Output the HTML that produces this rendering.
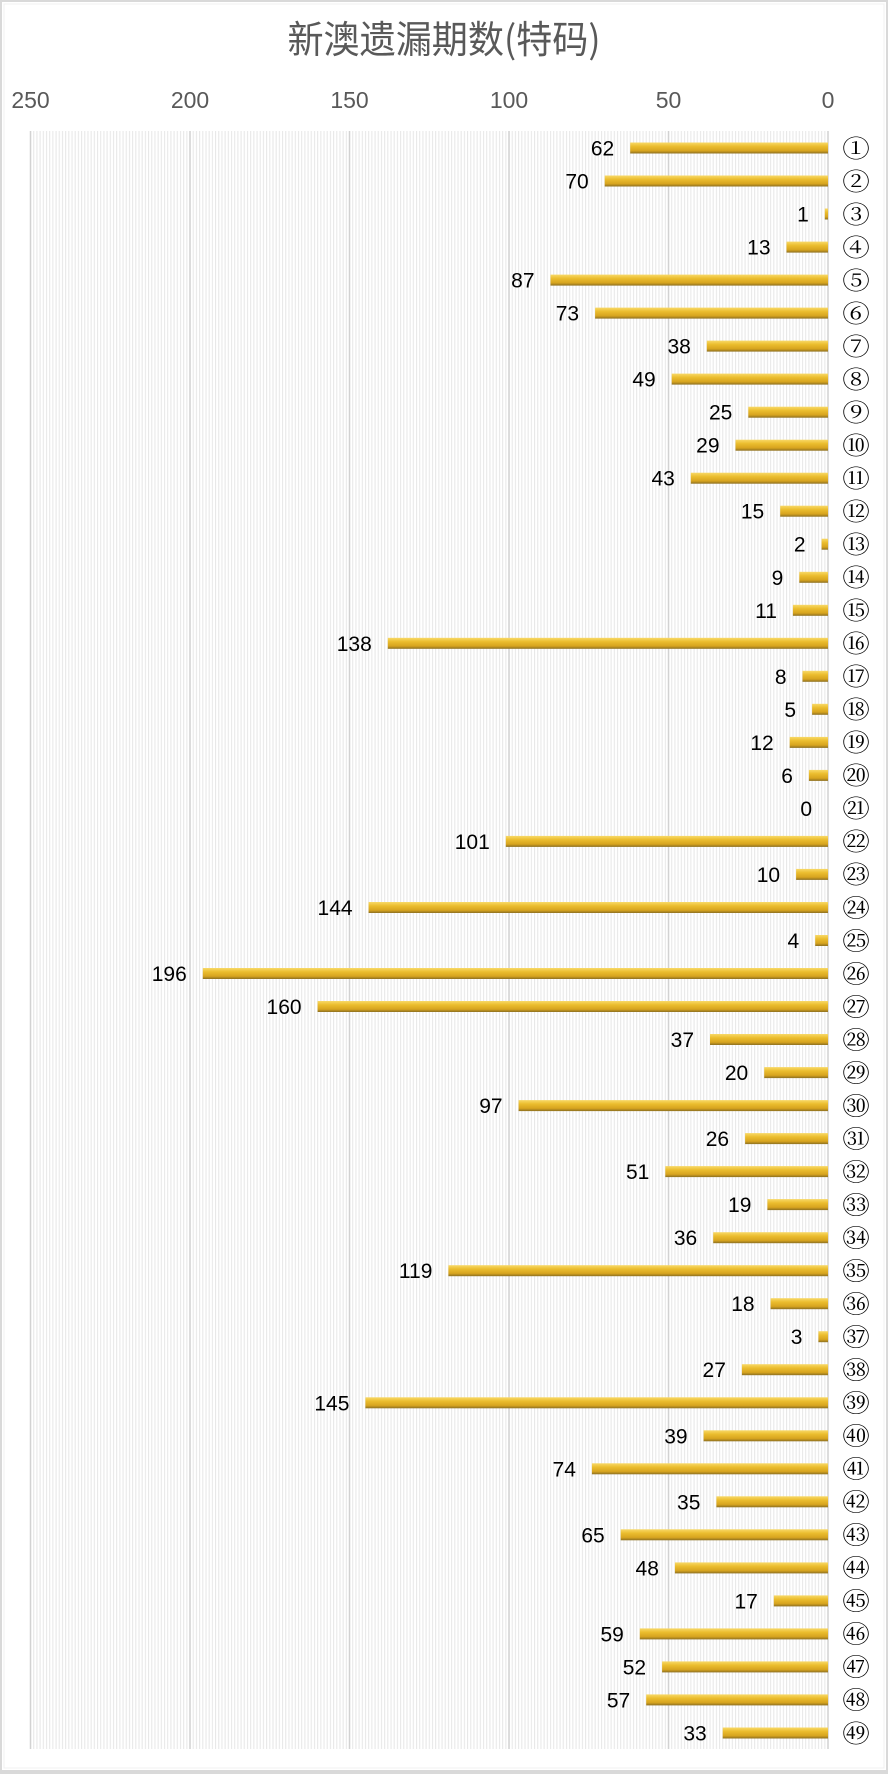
<!DOCTYPE html>
<html><head><meta charset="utf-8"><style>
html,body{margin:0;padding:0;background:#fff;}
svg{display:block;}
</style></head><body>
<svg width="888" height="1774" viewBox="0 0 888 1774" xmlns="http://www.w3.org/2000/svg">
<defs>
<linearGradient id="g" x1="0" y1="0" x2="0" y2="1">
<stop offset="0" stop-color="#f8d968"/>
<stop offset="0.35" stop-color="#ebbd2e"/>
<stop offset="0.75" stop-color="#d7a41f"/>
<stop offset="1" stop-color="#8c6f20"/>
</linearGradient>
<pattern id="mg" patternUnits="userSpaceOnUse" x="827.5" y="0" width="3.19" height="10">
<rect x="0" y="0" width="1.1" height="10" fill="#e8e8e8"/>
</pattern>
</defs>
<rect x="0" y="0" width="888" height="1774" fill="#fff"/>
<rect x="1" y="1" width="886" height="1771" fill="none" stroke="#d9d9d9" stroke-width="2"/>
<rect x="0" y="1770" width="888" height="4" fill="#d9d9d9"/>
<rect x="4" y="4" width="880" height="1764" fill="none" stroke="#f0f0f0" stroke-width="1"/>

<g transform="translate(444,0) scale(0.95,1)">
<text x="0" y="53" text-anchor="middle" font-family="'Noto Sans CJK SC','Liberation Sans',sans-serif" font-size="38" fill="#595959">新澳遗漏期数(特码)</text>
</g>

<g font-family="'Liberation Sans',sans-serif" font-size="23" fill="#595959" text-anchor="middle">
<text x="30.5" y="108">250</text>
<text x="190" y="108">200</text>
<text x="349.5" y="108">150</text>
<text x="509" y="108">100</text>
<text x="668.5" y="108">50</text>
<text x="828" y="108">0</text>
</g>

<rect x="30" y="131" width="798" height="1618" fill="url(#mg)"/>
<g stroke="#d2d2d2" stroke-width="1.5">
<line x1="30.5" y1="131" x2="30.5" y2="1749"/>
<line x1="190" y1="131" x2="190" y2="1749"/>
<line x1="349.5" y1="131" x2="349.5" y2="1749"/>
<line x1="509" y1="131" x2="509" y2="1749"/>
<line x1="668.5" y1="131" x2="668.5" y2="1749"/>
<line x1="828" y1="131" x2="828" y2="1749"/>
</g>

<g fill="url(#g)">
<rect x="630.2" y="142.5" width="197.8" height="11"/>
<rect x="604.7" y="175.5" width="223.3" height="11"/>
<rect x="824.8" y="208.5" width="3.2" height="11"/>
<rect x="786.5" y="241.6" width="41.5" height="11"/>
<rect x="550.5" y="274.6" width="277.5" height="11"/>
<rect x="595.1" y="307.6" width="232.9" height="11"/>
<rect x="706.8" y="340.6" width="121.2" height="11"/>
<rect x="671.7" y="373.6" width="156.3" height="11"/>
<rect x="748.3" y="406.7" width="79.7" height="11"/>
<rect x="735.5" y="439.7" width="92.5" height="11"/>
<rect x="690.8" y="472.7" width="137.2" height="11"/>
<rect x="780.2" y="505.7" width="47.8" height="11"/>
<rect x="821.6" y="538.7" width="6.4" height="11"/>
<rect x="799.3" y="571.8" width="28.7" height="11"/>
<rect x="792.9" y="604.8" width="35.1" height="11"/>
<rect x="387.8" y="637.8" width="440.2" height="11"/>
<rect x="802.5" y="670.8" width="25.5" height="11"/>
<rect x="812.1" y="703.8" width="15.9" height="11"/>
<rect x="789.7" y="736.9" width="38.3" height="11"/>
<rect x="808.9" y="769.9" width="19.1" height="11"/>
<rect x="505.8" y="835.9" width="322.2" height="11"/>
<rect x="796.1" y="868.9" width="31.9" height="11"/>
<rect x="368.6" y="902.0" width="459.4" height="11"/>
<rect x="815.2" y="935.0" width="12.8" height="11"/>
<rect x="202.8" y="968.0" width="625.2" height="11"/>
<rect x="317.6" y="1001.0" width="510.4" height="11"/>
<rect x="710.0" y="1034.0" width="118.0" height="11"/>
<rect x="764.2" y="1067.1" width="63.8" height="11"/>
<rect x="518.6" y="1100.1" width="309.4" height="11"/>
<rect x="745.1" y="1133.1" width="82.9" height="11"/>
<rect x="665.3" y="1166.1" width="162.7" height="11"/>
<rect x="767.4" y="1199.1" width="60.6" height="11"/>
<rect x="713.2" y="1232.2" width="114.8" height="11"/>
<rect x="448.4" y="1265.2" width="379.6" height="11"/>
<rect x="770.6" y="1298.2" width="57.4" height="11"/>
<rect x="818.4" y="1331.2" width="9.6" height="11"/>
<rect x="741.9" y="1364.2" width="86.1" height="11"/>
<rect x="365.4" y="1397.3" width="462.6" height="11"/>
<rect x="703.6" y="1430.3" width="124.4" height="11"/>
<rect x="591.9" y="1463.3" width="236.1" height="11"/>
<rect x="716.4" y="1496.3" width="111.6" height="11"/>
<rect x="620.7" y="1529.3" width="207.3" height="11"/>
<rect x="674.9" y="1562.4" width="153.1" height="11"/>
<rect x="773.8" y="1595.4" width="54.2" height="11"/>
<rect x="639.8" y="1628.4" width="188.2" height="11"/>
<rect x="662.1" y="1661.4" width="165.9" height="11"/>
<rect x="646.2" y="1694.4" width="181.8" height="11"/>
<rect x="722.7" y="1727.5" width="105.3" height="11"/>
</g>

<g font-family="'Liberation Sans',sans-serif" font-size="21" fill="#000" text-anchor="end">
<text x="614.2" y="155.5">62</text>
<text x="588.7" y="188.5">70</text>
<text x="808.8" y="221.5">1</text>
<text x="770.5" y="254.6">13</text>
<text x="534.5" y="287.6">87</text>
<text x="579.1" y="320.6">73</text>
<text x="690.8" y="353.6">38</text>
<text x="655.7" y="386.6">49</text>
<text x="732.3" y="419.7">25</text>
<text x="719.5" y="452.7">29</text>
<text x="674.8" y="485.7">43</text>
<text x="764.2" y="518.7">15</text>
<text x="805.6" y="551.7">2</text>
<text x="783.3" y="584.8">9</text>
<text x="776.9" y="617.8">11</text>
<text x="371.8" y="650.8">138</text>
<text x="786.5" y="683.8">8</text>
<text x="796.1" y="716.8">5</text>
<text x="773.7" y="749.9">12</text>
<text x="792.9" y="782.9">6</text>
<text x="812" y="815.9">0</text>
<text x="489.8" y="848.9">101</text>
<text x="780.1" y="881.9">10</text>
<text x="352.6" y="915.0">144</text>
<text x="799.2" y="948.0">4</text>
<text x="186.8" y="981.0">196</text>
<text x="301.6" y="1014.0">160</text>
<text x="694.0" y="1047.0">37</text>
<text x="748.2" y="1080.1">20</text>
<text x="502.6" y="1113.1">97</text>
<text x="729.1" y="1146.1">26</text>
<text x="649.3" y="1179.1">51</text>
<text x="751.4" y="1212.1">19</text>
<text x="697.2" y="1245.2">36</text>
<text x="432.4" y="1278.2">119</text>
<text x="754.6" y="1311.2">18</text>
<text x="802.4" y="1344.2">3</text>
<text x="725.9" y="1377.2">27</text>
<text x="349.4" y="1410.3">145</text>
<text x="687.6" y="1443.3">39</text>
<text x="575.9" y="1476.3">74</text>
<text x="700.4" y="1509.3">35</text>
<text x="604.7" y="1542.3">65</text>
<text x="658.9" y="1575.4">48</text>
<text x="757.8" y="1608.4">17</text>
<text x="623.8" y="1641.4">59</text>
<text x="646.1" y="1674.4">52</text>
<text x="630.2" y="1707.4">57</text>
<text x="706.7" y="1740.5">33</text>
</g>

<g transform="translate(856,0) scale(1.15,1)" font-family="'Noto Serif CJK JP','Noto Serif CJK SC','Noto Sans CJK JP',serif" font-size="24" fill="#000" text-anchor="middle">
<text x="0" y="156.8">①</text>
<text x="0" y="189.8">②</text>
<text x="0" y="222.8">③</text>
<text x="0" y="255.9">④</text>
<text x="0" y="288.9">⑤</text>
<text x="0" y="321.9">⑥</text>
<text x="0" y="354.9">⑦</text>
<text x="0" y="387.9">⑧</text>
<text x="0" y="421.0">⑨</text>
<text x="0" y="454.0">⑩</text>
<text x="0" y="487.0">⑪</text>
<text x="0" y="520.0">⑫</text>
<text x="0" y="553.0">⑬</text>
<text x="0" y="586.1">⑭</text>
<text x="0" y="619.1">⑮</text>
<text x="0" y="652.1">⑯</text>
<text x="0" y="685.1">⑰</text>
<text x="0" y="718.1">⑱</text>
<text x="0" y="751.2">⑲</text>
<text x="0" y="784.2">⑳</text>
<text x="0" y="817.2">㉑</text>
<text x="0" y="850.2">㉒</text>
<text x="0" y="883.2">㉓</text>
<text x="0" y="916.3">㉔</text>
<text x="0" y="949.3">㉕</text>
<text x="0" y="982.3">㉖</text>
<text x="0" y="1015.3">㉗</text>
<text x="0" y="1048.3">㉘</text>
<text x="0" y="1081.4">㉙</text>
<text x="0" y="1114.4">㉚</text>
<text x="0" y="1147.4">㉛</text>
<text x="0" y="1180.4">㉜</text>
<text x="0" y="1213.4">㉝</text>
<text x="0" y="1246.5">㉞</text>
<text x="0" y="1279.5">㉟</text>
<text x="0" y="1312.5">㊱</text>
<text x="0" y="1345.5">㊲</text>
<text x="0" y="1378.5">㊳</text>
<text x="0" y="1411.6">㊴</text>
<text x="0" y="1444.6">㊵</text>
<text x="0" y="1477.6">㊶</text>
<text x="0" y="1510.6">㊷</text>
<text x="0" y="1543.6">㊸</text>
<text x="0" y="1576.7">㊹</text>
<text x="0" y="1609.7">㊺</text>
<text x="0" y="1642.7">㊻</text>
<text x="0" y="1675.7">㊼</text>
<text x="0" y="1708.7">㊽</text>
<text x="0" y="1741.8">㊾</text>
</g>
</svg>
</body></html>
